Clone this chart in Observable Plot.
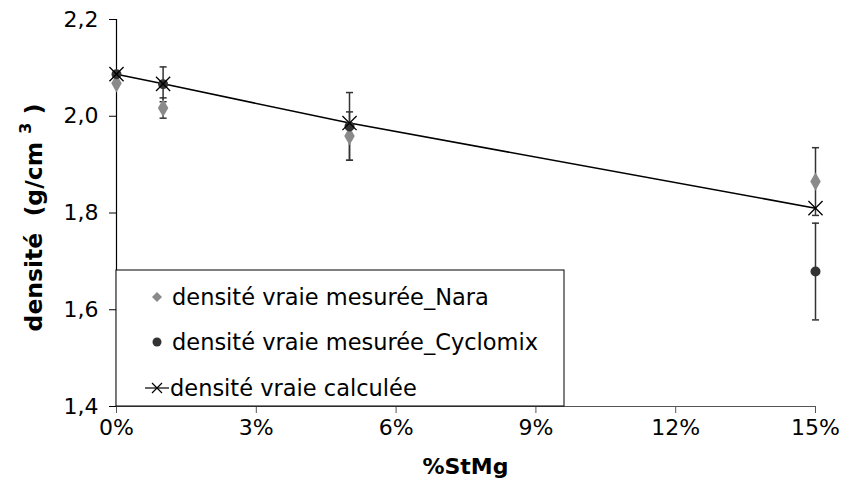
<!DOCTYPE html>
<html>
<head>
<meta charset="utf-8">
<script src="https://cdn.jsdelivr.net/npm/d3@7"></script>
<script src="https://cdn.jsdelivr.net/npm/@observablehq/plot@0.6"></script>
<style>
  html, body { margin: 0; padding: 0; background: #fff; }
</style>
</head>
<body>
<div id="chart"></div>
<script>
// ---- data ----
const stmg = [0, 0.01, 0.05, 0.15];
const naraValues = [2.068, 2.017, 1.959, 1.865];
const naraErrors = [0, 0.021, 0.05, 0.07];
const cyclomixValues = [2.087, 2.066, 1.979, 1.679];
const cyclomixErrors = [0, 0.036, 0.07, 0.1];
const calcValues = [2.087, 2.067, 1.986, 1.810];
const yTicks = [1.4, 1.6, 1.8, 2.0, 2.2];
const xTicks = [0, 0.03, 0.06, 0.09, 0.12, 0.15];
const seriesNames = ["densité vraie mesurée_Nara", "densité vraie mesurée_Cyclomix", "densité vraie calculée"];

const nara = stmg.map((x, i) => ({x, y: naraValues[i], e: naraErrors[i]}));
const cyc = stmg.map((x, i) => ({x, y: cyclomixValues[i], e: cyclomixErrors[i]}));
const calc = stmg.map((x, i) => ({x, y: calcValues[i]}));
const errs = [...cyc, ...nara].filter(d => d.e > 0);
const caps = errs.flatMap(d => [{x: d.x, y: d.y + d.e}, {x: d.x, y: d.y - d.e}]);

const capSymbol = {draw(ctx, size) { const r = Math.sqrt(size) / 2; ctx.moveTo(-r, 0); ctx.lineTo(r, 0); }};

const plot = Plot.plot({
  width: 843,
  height: 479,
  marginLeft: 116,
  marginRight: 28,
  marginTop: 19,
  marginBottom: 73,
  style: {fontFamily: "DejaVu Sans", fontSize: "22px", background: "#fff", color: "#000"},
  x: {domain: [0, 0.15]},
  y: {domain: [1.4, 2.2]},
  marks: [
    Plot.axisY({ticks: yTicks, tickFormat: d => d.toFixed(1).replace(".", ","), tickSize: 7, tickPadding: 11, label: null, stroke: "#000"}),
    Plot.axisX({ticks: xTicks, tickFormat: d => Math.round(d * 100) + "%", tickSize: 7, tickPadding: 6, label: null, stroke: "#555"}),
    Plot.ruleY([1.4], {stroke: "#555", strokeWidth: 1.2}),
    Plot.ruleX([0], {stroke: "#000", strokeWidth: 1.2}),
    Plot.ruleX(errs, {x: "x", y1: d => d.y - d.e, y2: d => d.y + d.e, stroke: "#333", strokeWidth: 1.5}),
    Plot.dot(caps, {x: "x", y: "y", symbol: capSymbol, r: 4, stroke: "#333", strokeWidth: 1.5}),
    Plot.line(calc, {x: "x", y: "y", stroke: "#000", strokeWidth: 1.6}),
    Plot.dot(nara, {x: "x", y: "y", symbol: "diamond", r: 5.5, fill: "#8a8a8a", stroke: "none"}),
    Plot.dot(cyc, {x: "x", y: "y", symbol: "circle", r: 5, fill: "#333", stroke: "none"}),
    Plot.dot(calc, {x: "x", y: "y", symbol: "times", r: 6.5, stroke: "#000", strokeWidth: 1.3})
  ]
});

document.getElementById("chart").appendChild(plot);

const X = plot.scale("x"), Y = plot.scale("y");
const svg = d3.select(plot);

// x axis title
svg.append("text")
  .attr("x", (X.apply(0) + X.apply(0.15)) / 2)
  .attr("y", 474)
  .attr("text-anchor", "middle")
  .attr("font-weight", "bold")
  .attr("font-size", 22)
  .text("%StMg");

// y axis title
const yt = svg.append("text")
  .attr("transform", `translate(42,${(Y.apply(1.4) + Y.apply(2.2)) / 2 + 5}) rotate(-90)`)
  .attr("text-anchor", "middle")
  .attr("font-weight", "bold")
  .attr("font-size", 23.5);
yt.append("tspan").text("densité  (g/cm ");
yt.append("tspan").attr("dy", -11).attr("font-size", 16).text("3");
yt.append("tspan").attr("dy", 11).text(" )");

// legend box
const lx = X.apply(0), lb = Y.apply(1.4);
const lw = 448, lh = 136;
const lg = svg.append("g").attr("transform", `translate(${lx},${lb - lh})`).attr("text-anchor", "start");
lg.append("rect").attr("width", lw).attr("height", lh).attr("fill", "#fff").attr("stroke", "#000").attr("stroke-width", 1);
const rowsY = [27, 72, 118];
// Nara
lg.append("path").attr("d", "M0,-5L5,0L0,5L-5,0Z").attr("transform", `translate(41,${rowsY[0]})`).attr("fill", "#8a8a8a");
// Cyclomix
lg.append("circle").attr("cx", 41).attr("cy", rowsY[1]).attr("r", 4.5).attr("fill", "#333");
// calc
lg.append("line").attr("x1", 29).attr("x2", 53).attr("y1", rowsY[2]).attr("y2", rowsY[2]).attr("stroke", "#000").attr("stroke-width", 1.2);
lg.append("path").attr("d", "M-5,-5L5,5M-5,5L5,-5").attr("transform", `translate(41,${rowsY[2]})`).attr("stroke", "#000").attr("stroke-width", 1.2);
seriesNames.forEach((n, i) => {
  lg.append("text").attr("x", i === 2 ? 54 : 56).attr("y", rowsY[i] + 8).attr("font-size", 22.5).attr("fill", "#000").attr("text-anchor", "start").text(n);
});
</script>
</body>
</html>
